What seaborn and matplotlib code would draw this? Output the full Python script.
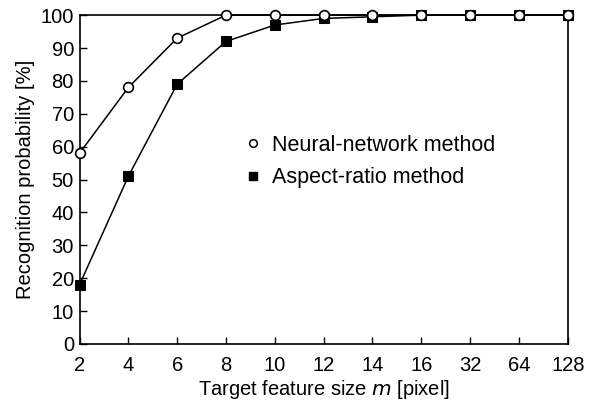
import pandas as pd
import matplotlib
matplotlib.use("Agg")
import matplotlib.pyplot as plt
from matplotlib.lines import Line2D
import seaborn as sns

# feature sizes (categorical, equally spaced on the axis)
sizes = ["2", "4", "6", "8", "10", "12", "14", "16", "32", "64", "128"]
neural = [58, 78, 93, 100, 100, 100, 100, 100, 100, 100, 100]
aspect = [18, 51, 79, 92, 97, 99, 99.5, 100, 100, 100, 100]
yticks = [0, 10, 20, 30, 40, 50, 60, 70, 80, 90, 100]

sns.set_theme(style="ticks")
plt.rcParams["font.family"] = ["Liberation Sans", "DejaVu Sans"]
plt.rcParams["text.color"] = "black"
plt.rcParams["axes.labelcolor"] = "black"

df = pd.DataFrame({"pos": range(len(sizes)), "neural": neural, "aspect": aspect})

fig = plt.figure(figsize=(5.89, 4.09), dpi=100)
ax = fig.add_axes([0.135, 0.159, 0.829, 0.804])

# aspect-ratio first so the open circles sit on top
sns.lineplot(data=df, x="pos", y="aspect", ax=ax, color="black", lw=1.1,
             marker="s", markersize=7, markerfacecolor="black",
             markeredgecolor="black", clip_on=False, zorder=3)
sns.lineplot(data=df, x="pos", y="neural", ax=ax, color="black", lw=1.1,
             marker="o", markersize=7, markerfacecolor="white",
             markeredgecolor="black", markeredgewidth=1.2,
             clip_on=False, zorder=4)

ax.set_xlim(0, len(sizes) - 1)
ax.set_ylim(0, 100)
ax.set_xticks(range(len(sizes)))
ax.set_xticklabels(sizes)
ax.set_yticks(yticks)
ax.tick_params(direction="in", length=5, width=1, labelsize=14.5,
               colors="black", labelcolor="black")
ax.tick_params(axis="x", pad=9)
ax.tick_params(axis="y", pad=4)
for s in ax.spines.values():
    s.set_visible(True)
    s.set_linewidth(1.2)
    s.set_color("black")

ax.set_xlabel("Target feature size $\\it{m}$ [pixel]", fontsize=14.5, labelpad=2)
ax.set_ylabel("Recognition probability [%]", fontsize=14.5, labelpad=4)

handles = [
    Line2D([], [], ls="none", marker="o", ms=5.5, mfc="white", mec="black", mew=1.1),
    Line2D([], [], ls="none", marker="s", ms=6, mfc="black", mec="black"),
]
ax.legend(handles, ["Neural-network method", "Aspect-ratio method"],
          loc="center left", bbox_to_anchor=(0.297, 0.555), frameon=False,
          fontsize=15.5, handletextpad=0.5, labelspacing=0.55, handlelength=0.8)

fig.savefig("out.png", dpi=100)
